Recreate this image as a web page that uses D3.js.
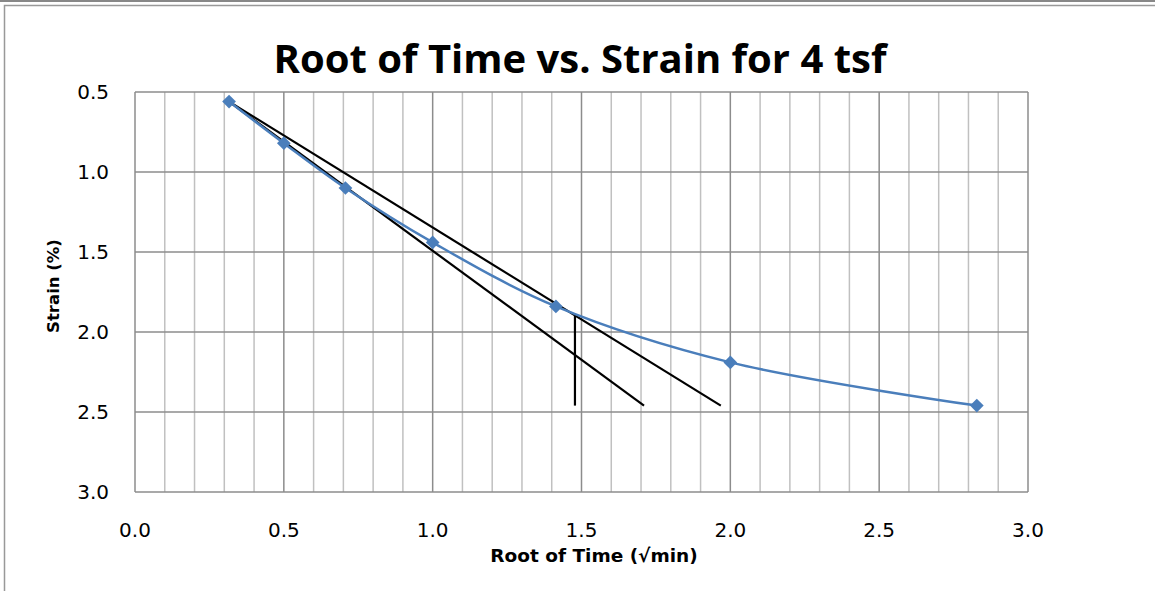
<!DOCTYPE html>
<html>
<head>
<meta charset="utf-8">
<script src="https://cdn.jsdelivr.net/npm/d3@7"></script>
<style>
  body { margin: 0; background: #fff; }
  svg { display: block; font-family: "DejaVu Sans", sans-serif; }
</style>
</head>
<body>
<div id="chart"></div>
<script>
// root of time (sqrt min) vs strain (%)
const rootTime = [0.316, 0.5, 0.707, 1.0, 1.414, 2.0, 2.828];
const strain = [0.56, 0.82, 1.1, 1.44, 1.84, 2.19, 2.46];

// construction lines drawn on the chart
const tangentLine = [[0.316, 0.56], [1.71, 2.46]];
const offsetLine = [[0.316, 0.56], [1.968, 2.46]];
const verticalLine = [[1.478, 1.9], [1.478, 2.46]];

const xTicks = [0, 0.5, 1.0, 1.5, 2.0, 2.5, 3.0];
const yTicks = [0.5, 1.0, 1.5, 2.0, 2.5, 3.0];

const width = 1155, height = 591;
const margin = { top: 92, right: 127, bottom: 99, left: 135 };

const svg = d3.select("#chart").append("svg")
  .attr("width", width)
  .attr("height", height);

// outer frame
svg.append("line")
  .attr("x1", 0).attr("x2", width)
  .attr("y1", 1).attr("y2", 1)
  .attr("stroke", "#888").attr("stroke-width", 2);
svg.append("rect")
  .attr("x", 4.5).attr("y", 5.5)
  .attr("width", width + 50).attr("height", height + 50)
  .attr("fill", "none").attr("stroke", "#999").attr("stroke-width", 1.5);

const x = d3.scaleLinear().domain([0, 3]).range([margin.left, width - margin.right]);
const y = d3.scaleLinear().domain([0.5, 3]).range([margin.top, height - margin.bottom]);

// minor vertical grid
const minor = d3.range(1, 30).map(d => d / 10).filter(d => Math.abs(d * 2 - Math.round(d * 2)) > 1e-6);
svg.append("g").selectAll("line").data(minor).enter().append("line")
  .attr("x1", d => x(d)).attr("x2", d => x(d))
  .attr("y1", y(0.5)).attr("y2", y(3))
  .attr("stroke", "#c0c0c0").attr("stroke-width", 1.5);

// major grid
svg.append("g").selectAll("line").data(xTicks).enter().append("line")
  .attr("x1", d => x(d)).attr("x2", d => x(d))
  .attr("y1", y(0.5)).attr("y2", y(3))
  .attr("stroke", "#8c8c8c").attr("stroke-width", 1.5);
svg.append("g").selectAll("line").data(yTicks).enter().append("line")
  .attr("x1", x(0)).attr("x2", x(3))
  .attr("y1", d => y(d)).attr("y2", d => y(d))
  .attr("stroke", "#8c8c8c").attr("stroke-width", 1.5);

// tick labels
svg.append("g").selectAll("text").data(yTicks).enter().append("text")
  .attr("x", 109)
  .attr("y", d => y(d) + 7)
  .attr("text-anchor", "end")
  .style("font-size", "20px")
  .text(d => d3.format(".1f")(d));
svg.append("g").selectAll("text").data(xTicks).enter().append("text")
  .attr("x", d => x(d))
  .attr("y", 537)
  .attr("text-anchor", "middle")
  .style("font-size", "20px")
  .text(d => d3.format(".1f")(d));

// titles
svg.append("text")
  .attr("x", 580).attr("y", 73)
  .attr("text-anchor", "middle")
  .style("font-family", "'Open Sans', sans-serif")
  .style("font-size", "40px").style("font-weight", "bold")
  .text("Root of Time vs. Strain for 4 tsf");
svg.append("text")
  .attr("x", 594).attr("y", 562)
  .attr("text-anchor", "middle")
  .style("font-size", "18.5px").style("font-weight", "bold")
  .text("Root of Time (√min)");
svg.append("text")
  .attr("transform", "translate(59," + 286 + ") rotate(-90)")
  .attr("text-anchor", "middle")
  .style("font-size", "16.5px").style("font-weight", "bold")
  .text("Strain (%)");

// black construction lines
const seg = d3.line().x(d => x(d[0])).y(d => y(d[1]));
[tangentLine, offsetLine, verticalLine].forEach(l => {
  svg.append("path")
    .attr("d", seg(l))
    .attr("fill", "none")
    .attr("stroke", "#000")
    .attr("stroke-width", 2.2);
});

// data series
const pts = rootTime.map((t, i) => [t, strain[i]]);
const curve = d3.line()
  .x(d => x(d[0])).y(d => y(d[1]))
  .curve(d3.curveCatmullRom.alpha(0.5));
svg.append("path")
  .attr("d", curve(pts))
  .attr("fill", "none")
  .attr("stroke", "#4a7ebb")
  .attr("stroke-width", 2.5);

svg.append("g").selectAll("path").data(pts).enter().append("path")
  .attr("d", d3.symbol().type(d3.symbolDiamond2).size(120))
  .attr("transform", d => "translate(" + x(d[0]) + "," + y(d[1]) + ")")
  .attr("fill", "#4a7ebb");
</script>
</body>
</html>
